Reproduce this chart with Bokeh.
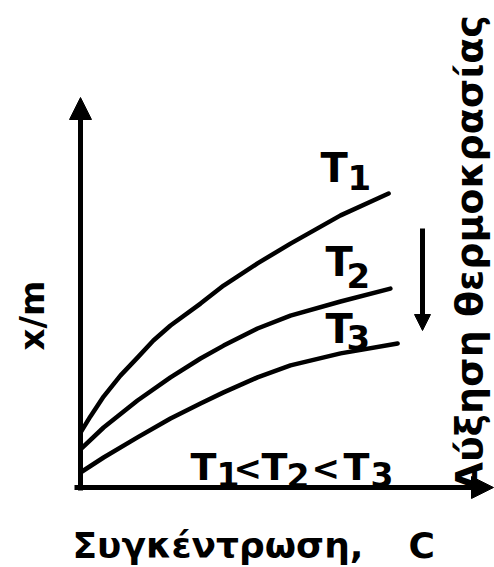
import numpy as np
from bokeh.plotting import figure
from bokeh.models import Label, Arrow, NormalHead, Range1d
from bokeh.embed import file_html
from bokeh.resources import INLINE

t1_c = [0.0, 0.33, 0.77, 1.33, 1.9, 2.43, 3.0, 4.0, 4.77, 5.9, 7.0, 8.67, 10.27]
t1_xm = [1.83, 2.37, 3.03, 3.73, 4.33, 4.9, 5.4, 6.13, 6.73, 7.47, 8.13, 9.07, 9.8]
t2_c = [0.0, 0.77, 1.9, 3.0, 4.0, 4.77, 5.9, 7.0, 8.67, 10.33]
t2_xm = [1.27, 2.0, 2.9, 3.67, 4.3, 4.73, 5.3, 5.73, 6.2, 6.63]
t3_c = [0.0, 0.77, 1.9, 3.0, 4.0, 4.77, 5.9, 7.0, 8.67, 10.57]
t3_xm = [0.5, 1.0, 1.67, 2.3, 2.8, 3.17, 3.67, 4.07, 4.47, 4.8]
series_names = ["1", "2", "3"]

x_label = "Συγκέντρωση,"
x_symbol = "C"
y_label = "x/m"
side_label = "Αύξηση θερμοκρασίας"

# ---- layout helpers ----
W, H = 494, 567
PX = 30.0  # pixels per unit
OX, OY = 80, 487  # axis origin on the page (from left, from top)


def pg(x, y):
    """page pixel -> data coords"""
    return ((x - OX) / PX, (OY - y) / PX)


p = figure(width=W, height=H, output_backend="svg", toolbar_location=None,
           x_range=Range1d(-OX / PX, (W - OX) / PX),
           y_range=Range1d(-(H - OY) / PX, OY / PX),
           x_axis_type=None, y_axis_type=None, min_border=0)
p.grid.visible = False
p.outline_line_color = None
p.background_fill_color = "white"
p.border_fill_color = "white"

FONT = "DejaVu Sans"

# axes with arrows
xa0 = pg(74, 487)
xa1 = pg(493, 487)
ya0 = pg(80, 490)
ya1 = pg(80, 97)
p.add_layout(Arrow(end=NormalHead(size=22, fill_color="black", line_color="black"),
                   x_start=xa0[0], y_start=0, x_end=xa1[0], y_end=0,
                   line_width=5, line_color="black"))
p.add_layout(Arrow(end=NormalHead(size=22, fill_color="black", line_color="black"),
                   x_start=0, y_start=ya0[1], x_end=0, y_end=ya1[1],
                   line_width=5, line_color="black"))

# curves
for c, xm in [(t1_c, t1_xm), (t2_c, t2_xm), (t3_c, t3_xm)]:
    p.line(c, xm, line_width=4.5, line_color="black", line_join="round", line_cap="round")

# temperature-increase arrow
a0 = pg(422, 228)
a1 = pg(422, 330)
p.add_layout(Arrow(end=NormalHead(size=16, fill_color="black", line_color="black"),
                   x_start=a0[0], y_start=a0[1], x_end=a1[0], y_end=a1[1],
                   line_width=5, line_color="black"))


def lab(txt, x, y, size, align="left", angle=0.0):
    dx, dy = pg(x, y)
    p.add_layout(Label(x=dx, y=dy, text=txt, text_font=FONT, text_font_style="bold",
                       text_font_size=f"{size}px", text_color="black",
                       text_align=align, text_baseline="middle", angle=angle))


# curve labels (y = visual middle of glyphs)
curve_label_pos = [((320, 167), (347, 177)), ((325, 261), (346, 275)), ((325, 328), (346, 337))]
for name, (tp, dp) in zip(series_names, curve_label_pos):
    lab("T", tp[0], tp[1], 40)
    lab(name, dp[0], dp[1], 34)

# T1<T2<T3
lab("T", 190, 466, 38)
lab("1", 216, 474, 33)
lab("<", 233, 467, 34)
lab("T", 261, 466, 38)
lab("2", 286, 475, 33)
lab("<", 311, 467, 34)
lab("T", 343, 466, 38)
lab("3", 370, 474, 33)

# axis titles
lab(x_label, 72, 545, 36)
lab(x_symbol, 408, 545, 36)
lab(y_label, 31, 315, 34, align="center", angle=np.pi / 2)
lab(side_label, 468, 491, 38, angle=np.pi / 2)

open("out.html", "w").write(file_html(p, INLINE))
